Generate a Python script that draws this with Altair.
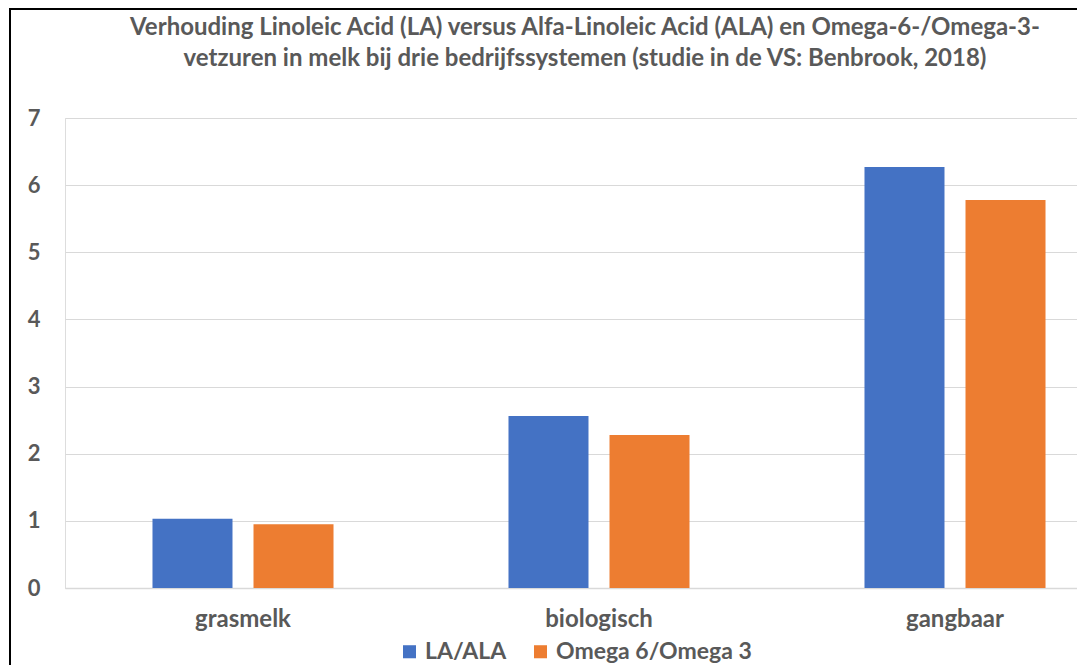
import altair as alt
import pandas as pd

categories = ["grasmelk", "biologisch", "gangbaar"]
series = ["LA/ALA", "Omega 6/Omega 3"]
la_ala = [1.03, 2.56, 6.27]
omega = [0.95, 2.28, 5.78]
y_ticks = [0, 1, 2, 3, 4, 5, 6, 7]
title_lines = [
    "Verhouding Linoleic Acid (LA) versus Alfa-Linoleic Acid (ALA) en Omega-6-/Omega-3-",
    "vetzuren in melk bij drie bedrijfssystemen (studie in de VS: Benbrook, 2018)",
]

rows = []
for c, a, b in zip(categories, la_ala, omega):
    rows.append({"category": c, "series": series[0], "value": a})
    rows.append({"category": c, "series": series[1], "value": b})
df = pd.DataFrame(rows)

W, H = 1012, 470
PAD_L, PAD_T, PAD_B = 57, 110, 77
TEXT = "#595959"
FONT = "Lato"

bars = alt.Chart(df).mark_bar().encode(
    x=alt.X(
        "category:N",
        sort=categories,
        scale=alt.Scale(range=[0, 1068], paddingInner=0, paddingOuter=0),
        axis=alt.Axis(
            title=None, labelAngle=0, ticks=False, tickSize=0,
            domainColor="#d9d9d9", domainWidth=1.5,
            labelFont=FONT, labelFontWeight="bold", labelFontSize=24,
            labelColor=TEXT, labelPadding=19,
        ),
    ),
    xOffset=alt.XOffset(
        "series:N", sort=series,
        scale=alt.Scale(paddingInner=0.208, paddingOuter=0.866),
    ),
    y=alt.Y(
        "value:Q",
        scale=alt.Scale(domain=[0, 7]),
        axis=alt.Axis(
            title=None, values=y_ticks, ticks=False, tickSize=0, domain=False,
            gridColor="#d9d9d9", gridWidth=1.2,
            labelFont=FONT, labelFontWeight="bold", labelFontSize=22,
            labelColor=TEXT, labelPadding=25,
        ),
    ),
    color=alt.Color(
        "series:N", sort=series,
        scale=alt.Scale(domain=series, range=["#4472C4", "#ED7D31"]),
        legend=alt.Legend(
            title=None, orient="none", legendX=333, legendY=522,
            direction="horizontal", symbolType="square", symbolSize=170,
            symbolStrokeWidth=0, labelFont=FONT, labelFontWeight="bold",
            labelFontSize=23, labelColor=TEXT, labelOffset=4, columnPadding=22,
            labelLimit=0,
        ),
    ),
)

frame_df = pd.DataFrame({"k": [0]})
left_line = alt.Chart(frame_df).mark_rule(color="#000000", strokeWidth=2).encode(
    x=alt.value(-55), y=alt.value(-110), y2=alt.value(H + PAD_B)
)
top_line = alt.Chart(frame_df).mark_rule(color="#000000", strokeWidth=2).encode(
    y=alt.value(-109), x=alt.value(-56), x2=alt.value(W + 10)
)

chart = alt.layer(bars, left_line, top_line).properties(
    width=W,
    height=H,
    autosize=alt.AutoSizeParams(type="none"),
    padding={"left": PAD_L, "top": PAD_T, "right": 0, "bottom": PAD_B},
    title=alt.TitleParams(
        text=title_lines, font=FONT, fontSize=24, fontWeight="bold",
        color=TEXT, anchor="middle", dx=14, offset=-64, lineHeight=31,
    ),
).configure_view(stroke=None).configure(background="white")

chart.save("out.html", embed_options={"renderer": "svg", "actions": False})
